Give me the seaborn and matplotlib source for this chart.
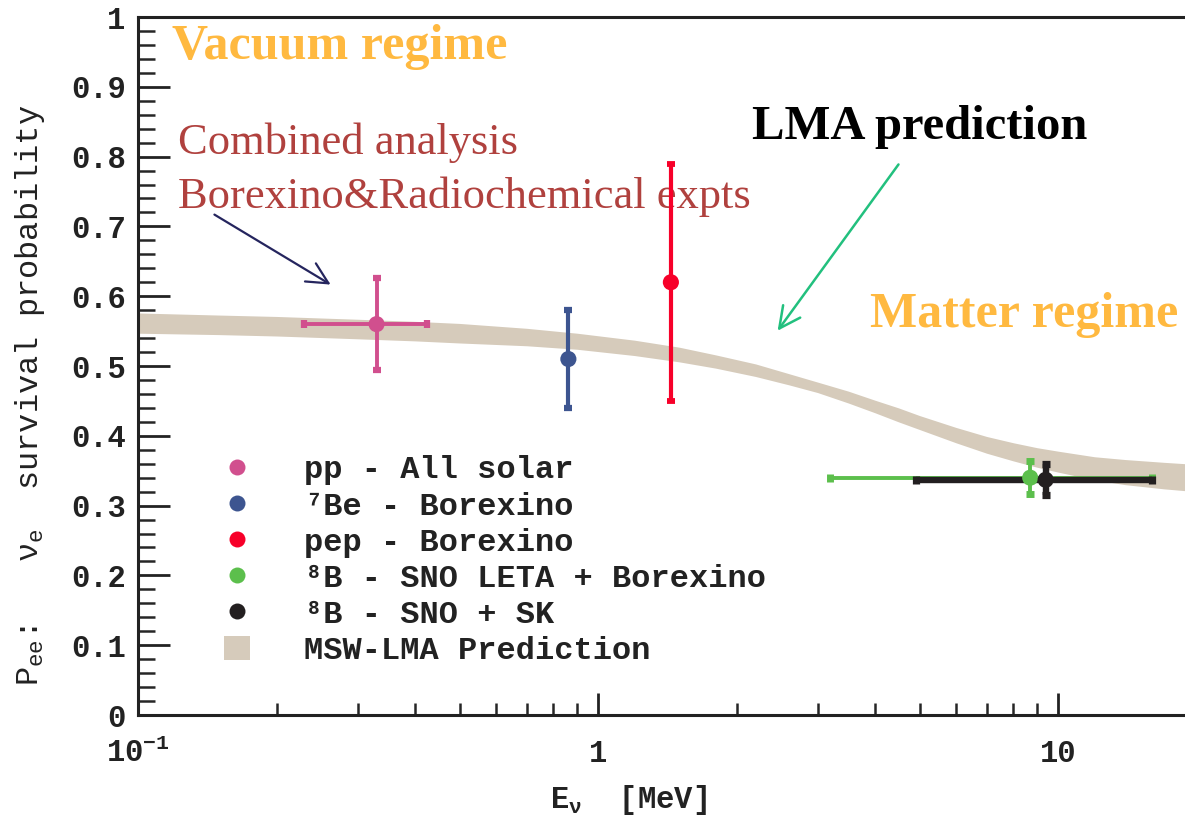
import numpy as np
import pandas as pd
import matplotlib
matplotlib.use("Agg")
import matplotlib.pyplot as plt
from matplotlib.lines import Line2D
from matplotlib.patches import Patch
from matplotlib.ticker import FixedLocator, FuncFormatter, NullFormatter, LogLocator, MultipleLocator
import seaborn as sns

# MSW-LMA prediction band (lower / upper edge of the survival probability)
band_energy = [0.1, 0.15, 0.2, 0.3, 0.4, 0.5, 0.7, 0.9, 1.2, 1.5, 1.8, 2.2, 2.6, 3.0,
               3.5, 4.0, 4.5, 5.0, 6.0, 7.0, 8.0, 9.0, 10.0, 12.0, 14.0, 17.0, 20.0]
band_low = [0.547, 0.545, 0.543, 0.539, 0.536, 0.533, 0.529, 0.524, 0.515, 0.506, 0.497,
            0.485, 0.473, 0.462, 0.447, 0.433, 0.420, 0.409, 0.390, 0.375, 0.364, 0.355,
            0.348, 0.337, 0.330, 0.324, 0.320]
band_high = [0.576, 0.573, 0.571, 0.567, 0.564, 0.561, 0.554, 0.547, 0.537, 0.527, 0.516,
             0.503, 0.489, 0.477, 0.464, 0.451, 0.440, 0.429, 0.412, 0.399, 0.390, 0.383,
             0.378, 0.370, 0.366, 0.362, 0.359]

# Measured solar-neutrino survival probabilities
sources = ["pp - All solar", "\u2077Be - Borexino", "pep - Borexino",
           "\u2078B - SNO LETA + Borexino", "\u2078B - SNO + SK"]
energy = [0.33, 0.862, 1.44, 8.7, 9.4]
pee = [0.56, 0.51, 0.62, 0.34, 0.337]
pee_err = [0.066, 0.070, 0.170, 0.024, 0.022]
energy_min = [0.23, np.nan, np.nan, 3.2, 4.9]
energy_max = [0.425, np.nan, np.nan, 16.0, 16.0]

band_label = "MSW-LMA Prediction"

palette = ["#D14F8E", "#3D5590", "#F70029", "#5CBF4C", "#231F20"]
band_color = "#D6CBBB"
mono = ["Liberation Mono", "DejaVu Sans Mono"]

sns.set_theme(style="ticks")
plt.rcParams["font.family"] = mono
plt.rcParams["mathtext.default"] = "regular"
plt.rcParams["axes.linewidth"] = 2.2
plt.rcParams["axes.edgecolor"] = "#222222"

fig = plt.figure(figsize=(11.85, 8.18), dpi=100)
ax = fig.add_axes([0.1165, 0.1259, 0.8932, 0.8533])
ax.spines["right"].set_visible(False)

ax.set_xscale("log")
ax.set_xlim(0.1, 20)
ax.set_ylim(0, 1)

# prediction band
ax.fill_between(band_energy, band_low, band_high, color=band_color, lw=0, zorder=1)

df = pd.DataFrame({"source": sources, "energy": energy, "pee": pee, "err": pee_err,
                   "emin": energy_min, "emax": energy_max})

line_w = [2.8, 3.0, 3.0, 2.8, 4.6]
cap_t = [4.5, 4.5, 4.2, 5.0, 5.2]
for i, row in df.iterrows():
    xerr = None
    if np.isfinite(row.emin):
        xerr = [[row.energy - row.emin], [row.emax - row.energy]]
    ax.errorbar(row.energy, row.pee, yerr=row.err, xerr=xerr, fmt="none",
                ecolor=palette[i], elinewidth=line_w[i], capsize=3, capthick=cap_t[i],
                zorder=3 + i)

sns.scatterplot(data=df, x="energy", y="pee", hue="source", palette=palette,
                s=135, linewidth=0, legend=False, ax=ax, zorder=10)
ax.set_xlabel("")
ax.set_ylabel("")

# axis ticks
ax.xaxis.set_major_locator(FixedLocator([0.1, 1, 10]))
ax.xaxis.set_major_formatter(FuncFormatter(
    lambda v, p: {0.1: r"$\mathregular{10^{-1}}$", 1: "1", 10: "10"}.get(round(v, 3), "")))
ax.xaxis.set_minor_locator(LogLocator(base=10, subs=np.arange(2, 10)))
ax.xaxis.set_minor_formatter(NullFormatter())
ax.yaxis.set_major_locator(MultipleLocator(0.1))
ax.yaxis.set_minor_locator(MultipleLocator(0.02))
ax.yaxis.set_major_formatter(FuncFormatter(lambda v, p: f"{v:g}"))

ax.tick_params(axis="x", which="major", direction="in", length=16, width=2, pad=17,
               labelsize=22, colors="#222222", top=False)
ax.tick_params(axis="x", which="minor", direction="in", length=8.5, width=1.8, top=False)
ax.tick_params(axis="y", which="major", direction="in", length=23, width=2, pad=9,
               labelsize=22, colors="#222222", right=False)
ax.tick_params(axis="y", which="minor", direction="in", length=12, width=1.8, right=False)
for lab in ax.get_xticklabels() + ax.get_yticklabels():
    lab.set_fontweight("bold")

fig.text(30 / 1185, 1 - 395 / 818,
         r"$\mathregular{P_{ee}}$:   $\mathregular{\nu_e}$  survival probability",
         rotation=90, ha="center", va="center", fontsize=23, color="#222222")
fig.text(628 / 1185, 1 - 800 / 818, r"$\mathregular{E_{\nu}}$  [MeV]",
         ha="center", va="center", fontsize=22, fontweight="bold", color="#222222")

# legend
handles = [Line2D([], [], ls="none", marker="o", markersize=11.5, color=c,
                  markeredgewidth=0) for c in palette]
handles.append(Patch(facecolor=band_color, edgecolor="none"))
leg = ax.legend(handles, sources + [band_label], loc="upper left",
                bbox_to_anchor=(224 / 1185, 1 - 455 / 818), bbox_transform=fig.transFigure,
                frameon=False, borderpad=0, borderaxespad=0, handlelength=0.81,
                handleheight=0.81, handletextpad=1.7, labelspacing=0.18,
                prop={"family": mono, "size": 23, "weight": "bold"})
for t in leg.get_texts():
    t.set_color("#222222")

# annotations
serif = ["Liberation Serif", "DejaVu Serif"]
orange = "#FFB940"
ax.text(0.0321, 0.957, "Vacuum regime", transform=ax.transAxes, ha="left", va="center",
        fontsize=36, fontweight="bold", color=orange, family=serif)
ax.text(0.6915, 0.573, "Matter regime", transform=ax.transAxes, ha="left", va="center",
        fontsize=36, fontweight="bold", color=orange, family=serif)
ax.text(0.580, 0.842, "LMA prediction", transform=ax.transAxes, ha="left", va="center",
        fontsize=35, fontweight="bold", color="black", family=serif)
ax.text(0.0378, 0.8195, "Combined analysis", transform=ax.transAxes, ha="left", va="center",
        fontsize=32, color="#B0413E", family=serif)
ax.text(0.0378, 0.742, "Borexino&Radiochemical expts", transform=ax.transAxes, ha="left",
        va="center", fontsize=32, color="#B0413E", family=serif)

ax.annotate("", xy=(0.1842, 0.6146), xytext=(0.0699, 0.719), xycoords="axes fraction",
            arrowprops=dict(arrowstyle="->", color="#25255E", lw=1.6, mutation_scale=38))
ax.annotate("", xy=(0.6027, 0.5473), xytext=(0.720, 0.792), xycoords="axes fraction",
            arrowprops=dict(arrowstyle="->", color="#22C07E", lw=1.8, mutation_scale=38))

fig.savefig("out.png", dpi=100)
